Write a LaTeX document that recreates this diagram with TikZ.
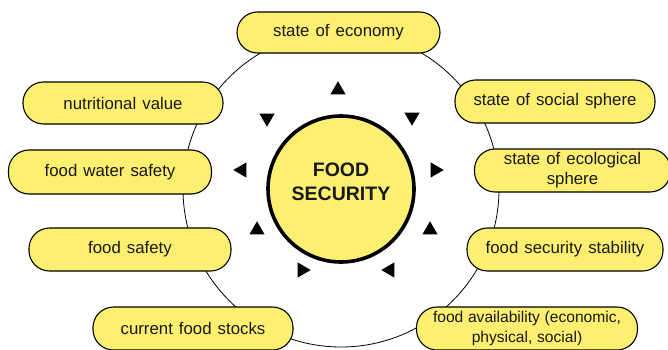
\documentclass[tikz,border=0pt]{standalone}
\usepackage{fontspec}
\setmainfont{Liberation Sans}
\usetikzlibrary{shapes.geometric}
\definecolor{boxyellow}{RGB}{253,240,112}
\definecolor{inktext}{RGB}{25,25,25}
\newcommand\boxfontsel{\fontsize{16.8}{20}\selectfont}
\newcommand\smallboxfontsel{\fontsize{15.6}{19.5}\selectfont}
\newcommand\widewords{\spaceskip=0.36em plus 0.1em minus 0.05em\relax}
\newcommand\mildwords{\spaceskip=0.3em plus 0.1em minus 0.05em\relax}
\tikzset{
  factor/.style={draw=black, line width=1.1pt, fill=boxyellow, rounded corners=20.5pt,
    minimum height=43pt, inner sep=2pt, align=center, text=inktext,
    font=\boxfontsel, execute at begin node=\widewords},
  tri/.style={regular polygon, regular polygon sides=3, fill=black, minimum size=17.5pt, inner sep=0pt},
}
\begin{document}
\begin{tikzpicture}[x=1pt,y=1pt]
\useasboundingbox (0,0) rectangle (668,349);
\coordinate (c) at (341,160);
\draw[line width=0.8pt] (c) circle[radius=158];
\node[circle, draw=black, line width=3.6pt, fill=boxyellow, minimum size=146pt, inner sep=0pt] (core) at (c) {};
\node[align=center, text=inktext, font=\fontsize{19.5}{24}\selectfont\bfseries] (coretext) at (341,167) {FOOD\\SECURITY};
% triangles
\node[tri] (t1) at (338,259) {};
\node[tri, shape border rotate=180] (t2) at (267,231) {};
\node[tri, shape border rotate=180] (t3) at (412,232) {};
\node[tri, shape border rotate=90] (t4) at (242,179) {};
\node[tri, shape border rotate=-90] (t5) at (435,179) {};
\node[tri] (t6) at (257,119) {};
\node[tri] (t7) at (430,119) {};
\node[tri, shape border rotate=-90] (t8) at (302,79) {};
\node[tri, shape border rotate=90] (t9) at (390,79) {};
% factor boxes
\node[factor, minimum width=203pt, minimum height=41pt] (econ) at (338.5,316.5) {state of economy};
\node[factor, minimum width=200pt, minimum height=42pt] (nutr) at (123,246) {nutritional value};
\node[factor, minimum width=203pt, minimum height=44pt] (water) at (110,177) {food water safety};
\node[factor, minimum width=202pt] (safety) at (130,99.5) {food safety};
\node[factor, minimum width=200pt] (stocks) at (193,20.5) {current food stocks};
\node[factor, minimum width=200pt] (social) at (555,247.5) {state of social sphere};
\node[factor, minimum width=196pt] (eco) at (572.5,178.5) {state of ecological\\sphere};
\node[factor, minimum width=196pt] (stab) at (565,99.5) {food security stability};
\node[factor, minimum width=221pt, font=\smallboxfontsel, execute at begin node=\mildwords] (avail) at (527,20.5) {food availability (economic,\\physical, social)};
\end{tikzpicture}
\end{document}
